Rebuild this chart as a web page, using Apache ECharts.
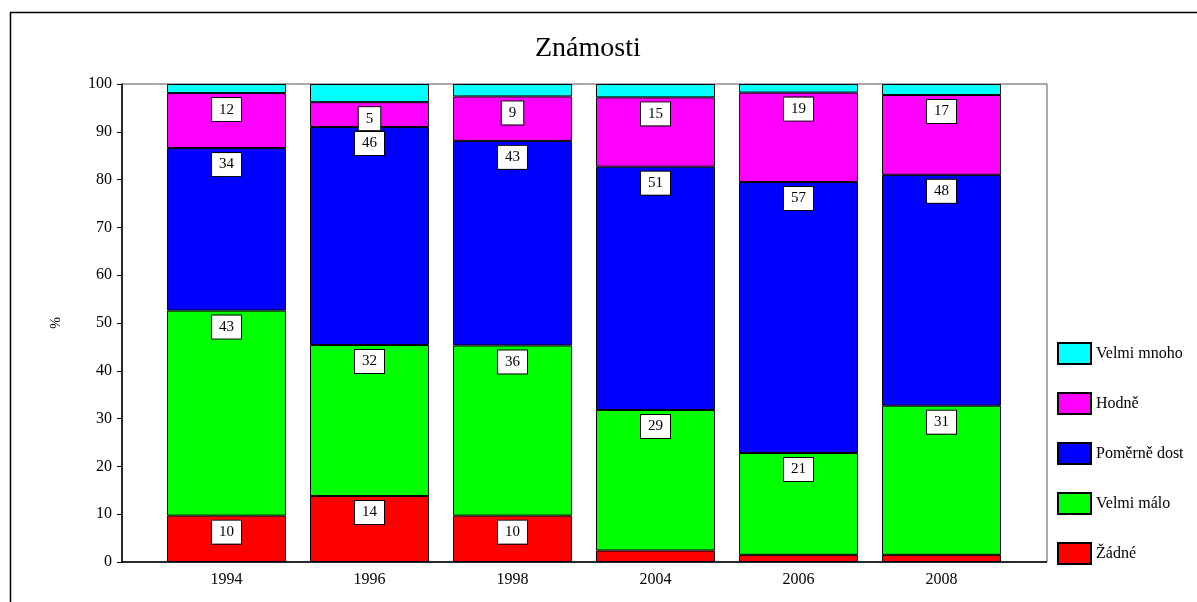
<!DOCTYPE html>
<html>
<head>
<meta charset="utf-8">
<script src="https://cdn.jsdelivr.net/npm/echarts@6/dist/echarts.min.js"></script>
<style>
  html, body { margin: 0; padding: 0; background: #fff; }
  #main { width: 1197px; height: 602px; }
</style>
</head>
<body>
<div id="main"></div>
<script>
// roky
var years = ['1994', '1996', '1998', '2004', '2006', '2008'];
// podíly v %
var zadne = [9.7, 13.8, 9.7, 2.4, 1.5, 1.5];
var velmiMalo = [42.9, 31.6, 35.6, 29.4, 21.3, 31.2];
var pomerneDost = [34.0, 45.6, 42.8, 50.9, 56.7, 48.3];
var hodne = [11.5, 5.2, 9.3, 14.5, 18.7, 16.7];
var velmiMnoho = [1.9, 3.8, 2.6, 2.8, 1.8, 2.3];

var font = 'Liberation Serif';

function makeSeries(name, color, arr) {
    return {
        name: name,
        type: 'bar',
        stack: 'all',
        barWidth: 119,
        // popisek jen u dostatečně velkých úseků
        data: arr.map(function (v) {
            return { value: v, label: { show: v >= 4 } };
        }),
        itemStyle: { color: color, borderColor: '#000', borderWidth: 1 },
        label: {
            show: true,
            position: 'insideTop',
            distance: 5,
            fontFamily: font,
            fontSize: 15,
            color: '#000',
            backgroundColor: '#fff',
            borderColor: '#000',
            borderWidth: 1,
            padding: [4, 7, 4, 7],
            formatter: function (p) {
                return String(Math.round(p.value));
            }
        },
        emphasis: { disabled: true }
    };
}

var myChart = echarts.init(document.getElementById('main'));

var option = {
    animation: false,
    textStyle: { fontFamily: font },
    title: {
        text: 'Známosti',
        left: 530,
        top: 30,
        textStyle: { fontFamily: font, fontSize: 28, fontWeight: 'normal', color: '#000' }
    },
    graphic: [{
        // vnější rámeček
        type: 'rect',
        shape: { x: 10.5, y: 12.5, width: 1300, height: 700 },
        style: { fill: 'none', stroke: '#000', lineWidth: 1.5 },
        silent: true
    }, {
        // rámeček plochy grafu
        type: 'rect',
        shape: { x: 122, y: 84, width: 925, height: 478 },
        style: { fill: 'none', stroke: '#555', lineWidth: 1 },
        silent: true
    }, {
        type: 'line',
        shape: { x1: 122, y1: 562, x2: 1047, y2: 562 },
        style: { stroke: '#000', lineWidth: 1.5 },
        silent: true
    }],
    legend: {
        orient: 'vertical',
        left: 1052,
        top: 337,
        itemWidth: 33,
        itemHeight: 21,
        itemGap: 27,
        icon: 'rect',
        textStyle: { fontFamily: font, fontSize: 16, color: '#000' },
        data: ['Velmi mnoho', 'Hodně', 'Poměrně dost', 'Velmi málo', 'Žádné']
    },
    grid: {
        left: 155,
        top: 84,
        right: 184,
        bottom: 40
    },
    xAxis: {
        type: 'category',
        data: years,
        splitLine: { show: false },
        axisLine: { show: false },
        axisTick: {
            alignWithLabel: true,
            length: 5,
            lineStyle: { color: '#000' }
        },
        axisLabel: {
            fontFamily: font,
            fontSize: 16,
            color: '#000',
            margin: 10
        }
    },
    yAxis: {
        type: 'value',
        min: 0,
        max: 100,
        interval: 10,
        offset: 33,
        name: '%',
        nameLocation: 'middle',
        nameGap: 59,
        nameRotate: 90,
        nameTextStyle: { fontFamily: font, fontSize: 14, color: '#000' },
        splitLine: { show: false },
        axisLine: { show: true, onZero: false, lineStyle: { color: '#000', width: 1.5 } },
        axisTick: { show: true, length: 5, lineStyle: { color: '#000' } },
        axisLabel: {
            fontFamily: font,
            fontSize: 16,
            color: '#000',
            margin: 10
        }
    },
    series: [
        makeSeries('Žádné', '#ff0000', zadne),
        makeSeries('Velmi málo', '#00ff00', velmiMalo),
        makeSeries('Poměrně dost', '#0000ff', pomerneDost),
        makeSeries('Hodně', '#ff00ff', hodne),
        makeSeries('Velmi mnoho', '#00ffff', velmiMnoho)
    ]
};

myChart.setOption(option, true);
</script>
</body>
</html>
